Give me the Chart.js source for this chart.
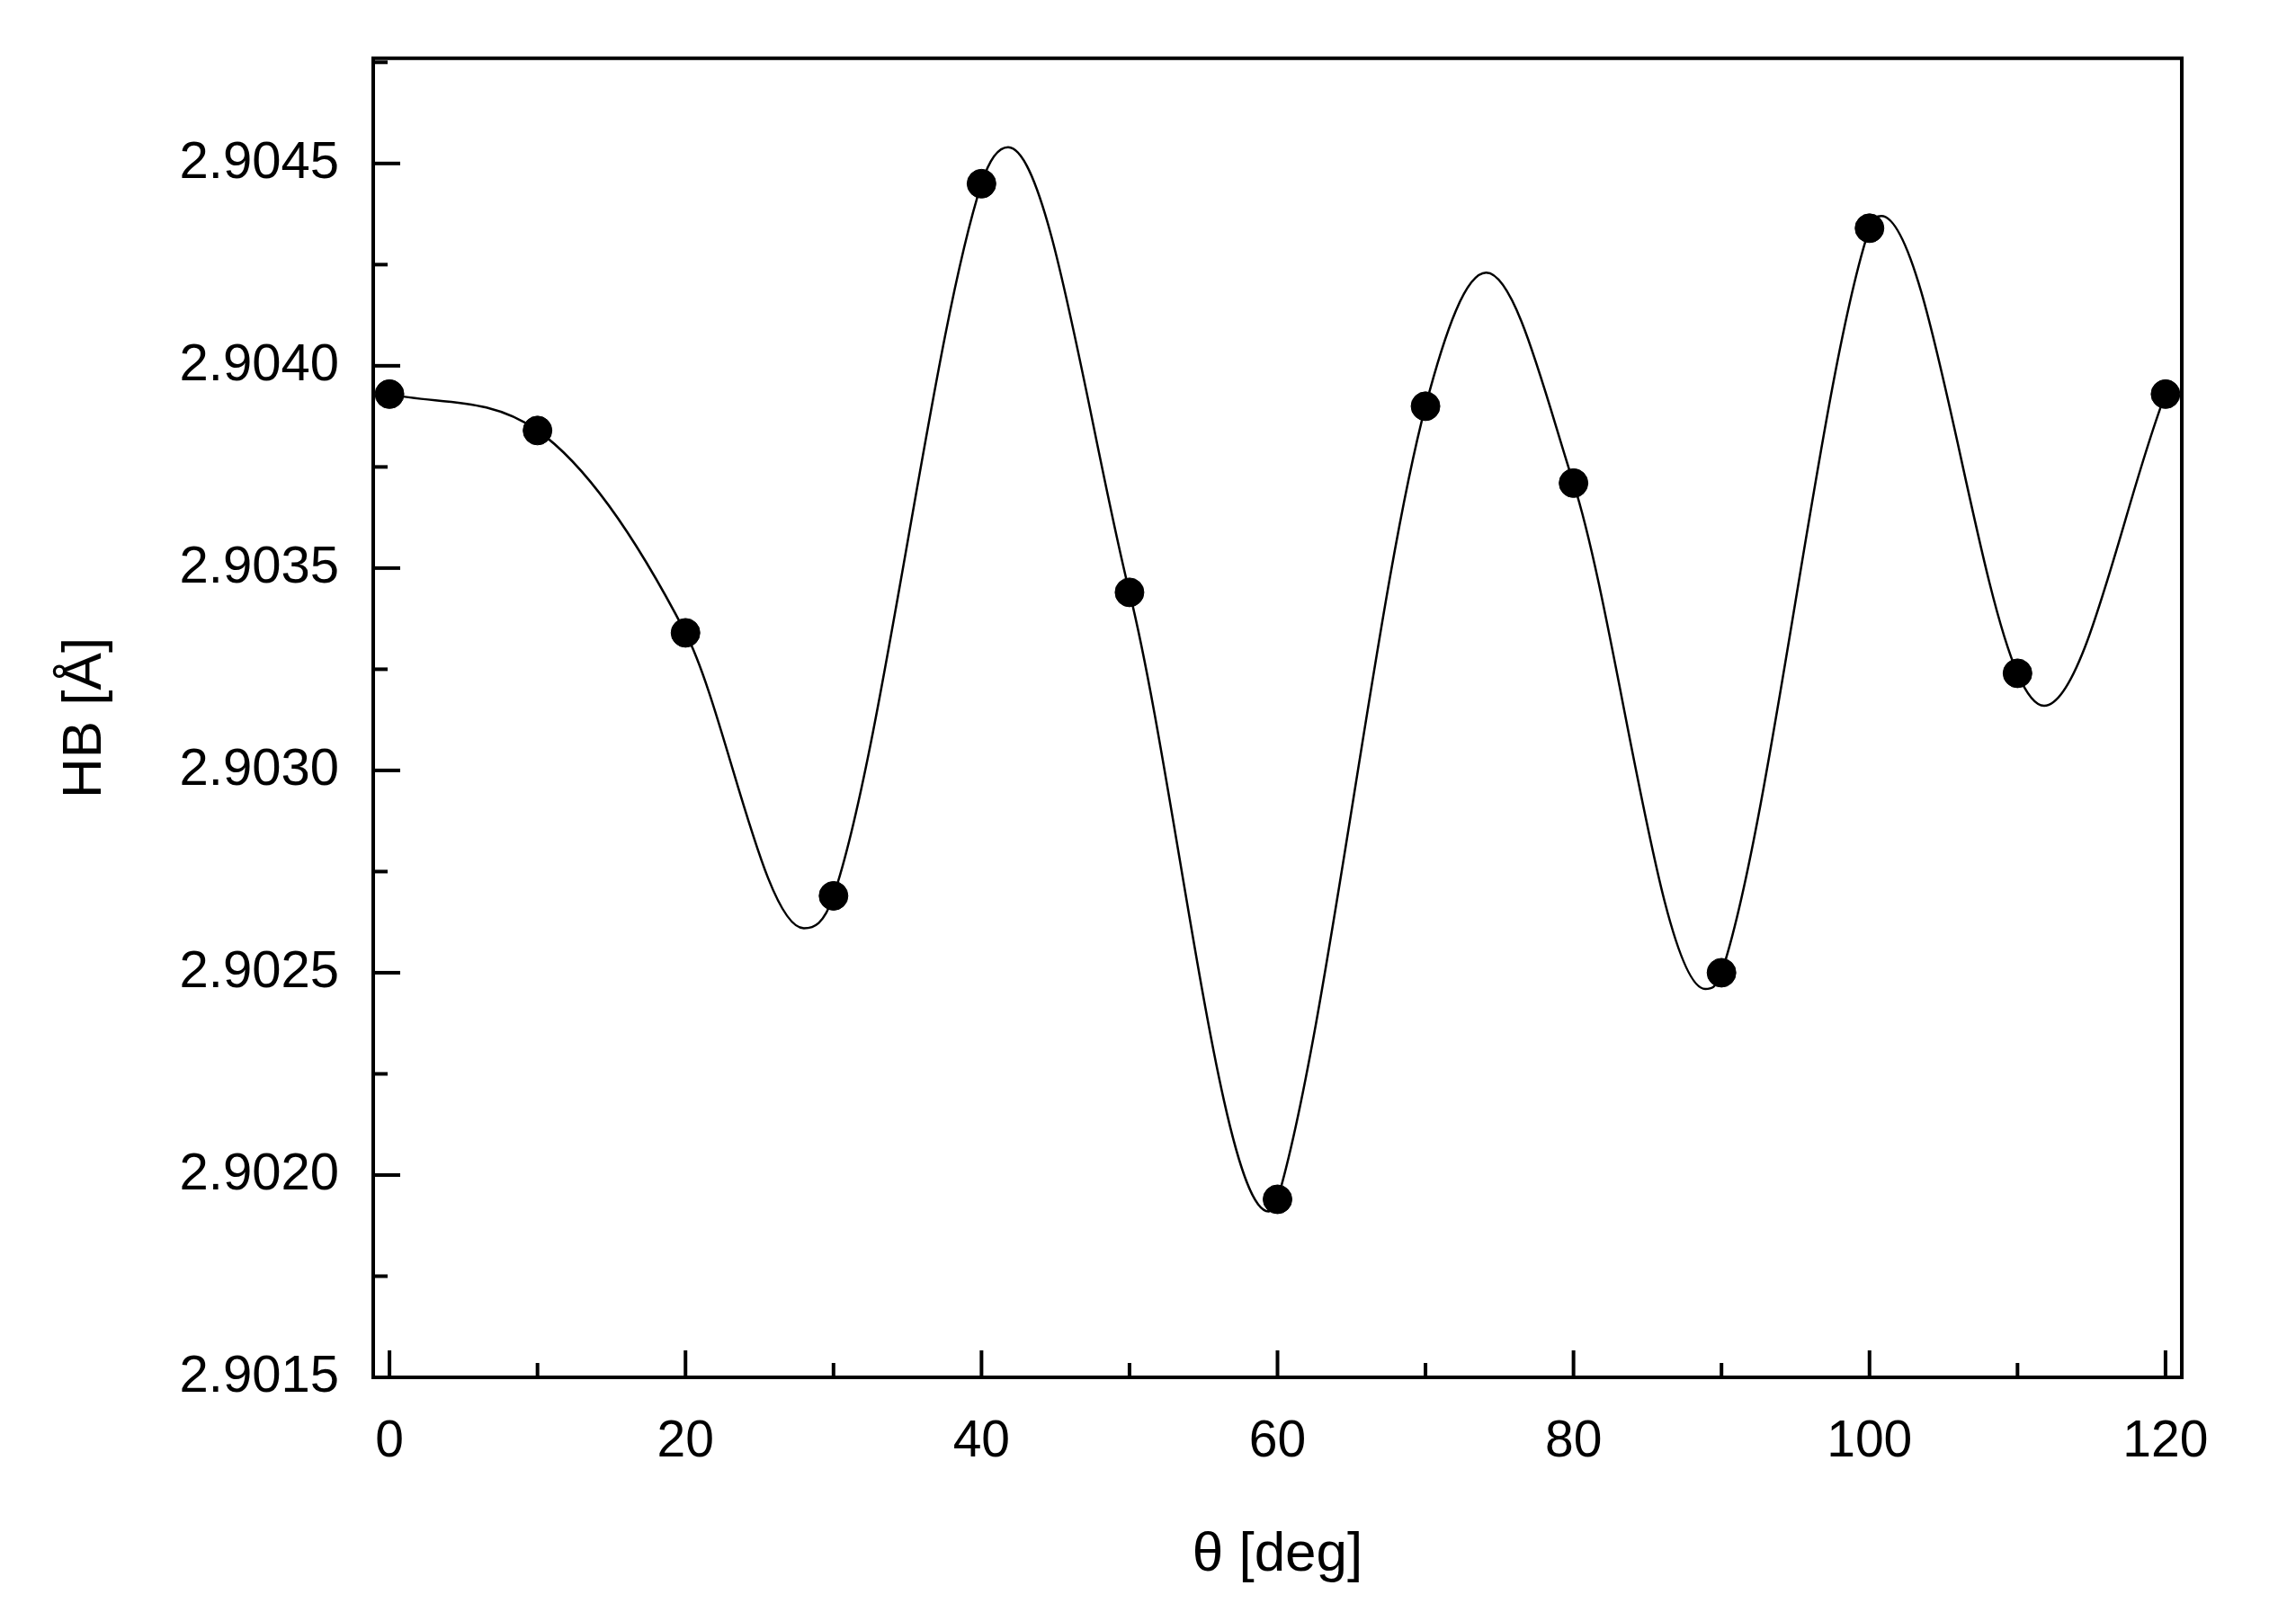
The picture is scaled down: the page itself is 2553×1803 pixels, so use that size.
<!DOCTYPE html>
<html><head><meta charset="utf-8">
<script src="https://cdn.jsdelivr.net/npm/chart.js@4"></script>
<style>html,body{margin:0;padding:0;background:#fff;overflow:hidden}#w{width:2553px;height:1803px}</style>
</head><body><div id="w"><canvas id="c"></canvas></div>
<script>
const angles = [0,10,20,30,40,50,60,70,80,90,100,110,120];
const hb = [2.90393,2.90384,2.90334,2.90269,2.90445,2.90344,2.90194,2.9039,2.90371,2.9025,2.90434,2.90324,2.90393];
const fitX = [0,10,20,28,30,40,41.8,50,59.4,60,70,74.1,80,88.9,90,100,100.8,110,111.8,120];
const fitY = [2.90393,2.90384,2.90334,2.90261,2.90269,2.90445,2.90454,2.90344,2.90191,2.90194,2.9039,2.90423,2.90371,2.90246,2.9025,2.90434,2.90437,2.90324,2.90316,2.90393];
const xTicks = [0,20,40,60,80,100,120];
const yTicks = [2.9015,2.902,2.9025,2.903,2.9035,2.904,2.9045];
const F = 'Liberation Sans, Arial, sans-serif';
const frame = {id:'frame', afterDatasetsDraw(ch){
  const {ctx, chartArea:a, scales:{x,y}} = ch;
  ctx.save(); ctx.strokeStyle='#000'; ctx.lineWidth=4;
  ctx.strokeRect(a.left,a.top,a.right-a.left,a.bottom-a.top);
  for(let v=0; v<=120; v+=10){const px=x.getPixelForValue(v); const L = v%20===0?30:16;
    ctx.beginPath(); ctx.moveTo(px,a.bottom); ctx.lineTo(px,a.bottom-L); ctx.stroke();}
  for(let k=0;k<=13;k++){const v=2.9015+k*0.00025; const py=y.getPixelForValue(v); const L = k%2===0?30:16;
    ctx.beginPath(); ctx.moveTo(a.left,py); ctx.lineTo(a.left+L,py); ctx.stroke();}
  ctx.restore();
}};
new Chart(document.getElementById('c'), {
  type:'scatter',
  data:{datasets:[
    {data:fitX.map((v,i)=>({x:v,y:fitY[i]})), showLine:true, borderColor:'#000', borderWidth:2.5, pointRadius:0, cubicInterpolationMode:'monotone'},
    {data:angles.map((v,i)=>({x:v,y:hb[i]})), backgroundColor:'#000', borderColor:'#000', pointRadius:16, showLine:false}
  ]},
  options:{responsive:true, maintainAspectRatio:false, animation:false,
    plugins:{legend:{display:false}, tooltip:{enabled:false}},
    layout:{padding:{top:33,right:127,left:0,bottom:0}},
    scales:{
      x:{type:'linear', min:-1.1, max:121.1, border:{display:false}, grid:{display:false},
        afterBuildTicks:s=>{s.ticks=xTicks.map(v=>({value:v}));},
        ticks:{color:'#000', padding:30, maxRotation:0, autoSkip:false, font:{family:F,size:57}, callback:v=>String(v)},
        title:{display:true, text:'θ [deg]', color:'#000', font:{family:F,size:62}, padding:{top:0,bottom:36}},
        afterFit:s=>{s.height=271;}},
      y:{type:'linear', min:2.9015, max:2.90476, border:{display:false}, grid:{display:false},
        afterBuildTicks:s=>{s.ticks=yTicks.map(v=>({value:v}));},
        ticks:{color:'#000', padding:30, font:{family:F,size:58}, callback:v=>v.toFixed(4)},
        title:{display:true, text:'HB [Å]', color:'#000', font:{family:F,size:62}, padding:{top:58,bottom:0}},
        afterFit:s=>{s.width=415;}}
    }},
  plugins:[frame]
});
</script></body></html>
